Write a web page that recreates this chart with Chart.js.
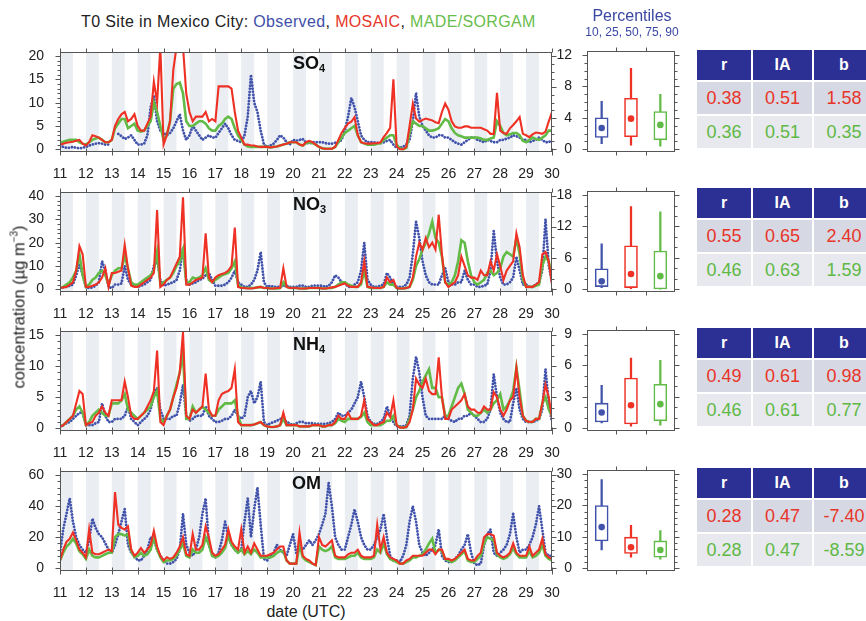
<!DOCTYPE html>
<html><head><meta charset="utf-8">
<script src="https://cdn.jsdelivr.net/npm/chart.js@4.4.1/dist/chart.umd.min.js"></script>
<style>
html,body{margin:0;padding:0;background:#fff;width:866px;height:621px;overflow:hidden;font-family:"Liberation Sans",Arial,Helvetica,sans-serif;}
canvas{position:absolute;z-index:1;}
.t{position:absolute;white-space:nowrap;line-height:1;z-index:3;}
.cell{position:absolute;display:flex;align-items:center;justify-content:center;box-sizing:border-box;}
.hd{background:#2c2f93;color:#fff;font-weight:bold;font-size:16px;}
.r1{background:#d6d9e3;font-size:18px;}
.r2{background:#e7e9ee;font-size:18px;}
.sp{font-weight:bold;font-size:18px;color:#111;}
.sp sub{font-size:11px;vertical-align:-3px;}
</style>
</head><body>
<div class="t" style="left:81px;top:14px;font-size:16px;letter-spacing:0.36px;color:#222;">T0 Site in Mexico City: <span style="color:#3f4fa8">Observed</span>, <span style="color:#e8352a">MOSAIC</span>, <span style="color:#69bd4c">MADE/SORGAM</span></div>
<div class="t" style="left:590px;top:8px;font-size:16px;color:#3a47a3;width:84px;text-align:center;">Percentiles</div>
<div class="t" style="left:575px;top:26px;font-size:12px;color:#3a47a3;width:114px;text-align:center;">10, 25, 50, 75, 90</div>
<div class="t sp" style="left:293px;top:54px;">SO<sub>4</sub></div>
<div class="t sp" style="left:293px;top:195px;">NO<sub>3</sub></div>
<div class="t sp" style="left:293px;top:335px;">NH<sub>4</sub></div>
<div class="t sp" style="left:292px;top:474px;">OM</div>
<div class="t" style="left:18px;top:307px;font-size:16.5px;color:#222;transform:translate(-50%,-50%) rotate(-90deg);">concentration (µg m<sup style="font-size:10px">−3</sup>)</div>
<div class="t" style="left:306px;top:604px;font-size:16px;color:#222;transform:translateX(-50%);">date (UTC)</div>
<script>
// ================= DATA =================
const dayTicks = [11,12,13,14,15,16,17,18,19,20,21,22,23,24,25,26,27,28,29,30];
// 3-hourly samples (00,03,...,21 UTC) for each day 11..29, plus 30 00 UTC
const so4Obs = [
0.8,0.5,0.3,0.3,0.5,0.3,0.2,0.3,
0.5,0.8,1.0,1.2,1.3,1.2,1.0,1.0,
null,null,3.3,2.8,2.2,2.5,3.0,2.0,
1.0,1.0,1.2,3.0,9.0,11.5,6.0,4.0,
3.5,3.0,3.5,4.5,6.0,7.5,4.0,2.0,
3.0,5.0,4.0,3.0,2.0,2.5,3.0,2.5,
2.5,3.5,4.5,5.5,4.5,3.0,2.0,1.8,
1.5,3.0,7.0,16.0,10.0,8.0,4.0,1.0,
0.5,0.8,1.2,2.0,3.0,2.5,1.5,1.0,
2.0,1.8,2.0,2.2,1.5,1.2,1.5,1.5,
1.5,1.5,1.3,1.2,1.2,1.4,1.5,2.0,
4.0,7.0,11.0,9.0,6.0,3.0,2.0,1.5,
1.5,1.5,1.4,1.3,1.5,1.8,2.0,1.0,
0.3,0.3,0.5,1.0,2.0,6.0,12.0,7.0,
5.0,4.0,3.0,2.5,2.5,3.0,3.0,2.5,
2.5,2.0,1.5,1.2,1.0,1.5,2.0,2.5,
2.5,2.0,1.8,1.5,2.0,1.8,1.5,1.5,
2.0,2.0,2.3,2.5,3.0,2.8,2.5,2.0,
2.0,1.5,1.8,2.0,2.5,2.0,1.5,1.5,
2.0];
const so4Mosaic = [
1.0,1.2,1.4,1.5,1.6,1.8,2.0,1.2,
0.8,1.5,3.0,2.8,2.5,2.0,1.5,1.5,
2.0,5.0,6.5,7.5,8.0,6.0,6.5,7.5,
5.0,4.0,4.0,5.5,7.0,14.5,10.0,22.0,
1.0,3.0,6.0,17.0,22.0,22.0,22.0,12.0,
8.0,6.0,7.0,7.0,7.0,8.0,6.0,6.5,
6.0,13.5,13.5,13.5,13.5,13.0,8.0,4.0,
2.5,1.0,1.0,0.8,0.8,0.6,0.5,0.5,
0.5,0.4,0.5,0.6,0.8,1.0,1.2,1.5,
1.5,1.5,1.0,0.8,1.5,1.8,1.5,1.0,
0.5,0.2,0.1,0.1,0.1,0.5,2.0,3.5,
4.6,5.5,5.9,6.9,3.0,1.5,1.3,1.2,
1.2,1.3,1.3,1.5,2.6,3.5,4.6,15.0,
0.6,0.0,0.0,0.5,5.0,9.8,6.6,5.9,
6.3,6.6,6.4,6.2,5.8,5.6,8.0,9.8,
8.5,6.0,4.9,4.6,4.6,4.9,4.9,4.6,
4.6,4.6,4.6,4.3,4.0,3.3,3.3,12.1,
4.0,3.5,3.3,4.5,5.2,6.0,6.9,3.3,
3.0,2.6,3.2,3.6,3.5,3.3,3.8,6.0,
8.0];
const so4Made = [
1.5,1.6,1.8,2.0,2.0,2.0,1.5,1.2,
1.0,1.5,2.0,2.3,2.5,2.0,1.5,1.5,
2.0,4.5,5.5,6.5,6.5,4.5,5.0,5.5,
4.0,3.8,4.0,5.0,6.0,10.0,8.0,5.0,
2.0,3.0,6.0,13.0,14.0,14.3,12.0,6.0,
5.0,5.0,5.5,6.0,6.0,5.5,4.5,4.0,
4.0,5.0,5.5,6.5,7.0,6.5,4.5,3.0,
2.0,1.0,0.6,0.5,0.5,0.5,0.5,0.5,
0.5,0.4,0.5,0.6,0.8,1.0,1.2,1.5,
1.5,1.5,1.0,0.8,1.3,1.5,1.3,1.0,
0.5,0.2,0.1,0.1,0.1,0.5,1.5,2.5,
3.5,4.0,4.5,5.0,3.0,1.5,1.2,1.0,
1.0,1.0,1.2,1.3,2.0,2.5,3.0,3.0,
1.0,0.2,0.0,0.3,3.5,6.0,5.5,5.0,
5.0,4.5,4.0,4.0,4.2,4.5,5.5,6.5,
6.0,4.5,3.5,3.0,2.8,2.5,2.5,2.5,
2.5,2.5,2.3,2.0,2.0,2.3,2.5,6.0,
5.0,3.5,3.0,3.2,3.5,3.5,3.0,1.8,
1.5,2.0,2.5,2.2,2.0,2.5,3.0,4.0,
4.0];
const no3Obs = [
0.5,0.8,1.0,1.5,2.0,6.0,11.0,6.0,
1.0,0.5,0.8,1.5,3.0,12.0,8.0,1.0,
0.5,2.0,2.0,2.5,10.0,4.0,2.0,1.5,
1.0,1.5,2.0,3.0,4.0,10.0,13.0,4.0,
1.5,2.0,2.5,3.0,4.0,8.0,18.0,4.0,
2.0,2.5,3.0,4.0,4.5,6.0,7.0,4.0,
1.5,1.5,1.5,2.0,3.0,5.0,8.0,3.0,
2.0,1.0,1.0,2.0,4.0,8.0,16.0,3.0,
1.0,1.5,1.0,1.0,1.0,1.5,1.5,1.0,
1.0,1.0,1.5,1.5,1.0,1.0,1.5,1.5,
1.5,1.5,1.0,1.5,3.0,6.0,5.0,3.0,
3.0,1.0,1.0,2.0,3.0,8.0,20.0,4.0,
2.0,1.0,1.0,1.5,2.0,7.0,5.0,2.0,
1.0,1.0,1.0,2.0,5.0,15.0,29.0,22.0,
12.0,6.0,3.0,2.0,2.0,2.0,6.0,9.0,
3.0,2.0,2.0,3.0,3.0,8.0,4.0,2.0,
2.0,1.0,1.0,1.5,2.0,8.0,25.0,12.0,
5.0,2.0,2.0,3.0,5.0,14.0,8.0,2.0,
2.0,1.0,1.0,2.0,3.0,8.0,30.0,10.0,
3.0];
const no3Mosaic = [
0.5,0.8,1.0,2.0,3.0,8.0,18.5,15.0,
1.0,1.0,1.5,2.0,3.0,5.0,9.0,1.0,
7.0,7.0,7.5,8.0,19.0,9.0,1.5,1.0,
1.0,2.0,3.0,4.0,5.0,7.0,34.0,1.0,
2.0,4.0,5.0,8.0,11.0,14.0,39.5,2.0,
2.0,3.0,4.0,4.5,5.0,24.0,5.0,3.0,
5.0,6.0,6.5,7.0,8.0,10.0,26.5,1.0,
0.5,0.5,0.3,0.3,0.5,0.8,1.0,0.5,
0.5,0.3,0.3,0.5,0.5,9.0,1.0,0.5,
0.5,0.5,0.3,0.3,0.3,0.5,0.5,0.5,
0.5,0.3,0.3,0.5,0.8,1.0,1.5,2.0,
2.5,1.5,1.0,1.0,1.0,3.0,12.0,1.0,
0.8,0.5,0.5,0.5,1.0,5.0,3.0,4.0,
0.5,0.3,0.3,0.5,1.0,5.0,14.0,20.0,
17.0,22.0,18.0,20.0,17.0,32.0,15.0,3.0,
1.0,2.0,3.0,6.0,14.0,10.0,6.0,5.0,
5.0,4.0,8.0,6.0,6.0,12.0,8.0,15.0,
10.0,4.0,8.0,10.0,12.0,24.0,18.0,6.0,
1.0,1.0,1.0,2.0,3.0,15.0,16.0,12.0,
2.0];
const no3Made = [
0.5,1.0,2.0,3.0,5.0,8.0,15.0,6.0,
1.0,2.0,4.0,5.0,7.0,8.0,6.0,2.0,
6.0,8.0,9.0,9.0,14.0,9.0,3.0,2.0,
2.0,3.0,4.0,5.0,6.0,8.0,16.0,2.0,
3.0,4.0,5.0,7.0,10.0,12.0,17.0,3.0,
3.0,5.0,4.5,5.0,6.0,9.0,4.0,3.0,
4.0,5.0,6.0,6.5,7.0,9.0,12.0,2.0,
0.8,0.5,0.5,0.5,0.5,0.8,1.0,0.5,
0.5,0.3,0.3,0.3,0.5,3.0,1.0,0.5,
0.5,0.5,0.3,0.3,0.3,0.5,0.5,0.5,
0.5,0.3,0.3,0.5,0.5,1.0,2.0,3.0,
3.0,2.0,1.5,1.0,1.0,2.0,8.0,1.0,
0.5,0.5,0.5,0.5,1.0,3.0,2.0,2.0,
0.5,0.3,0.3,0.5,1.0,4.0,10.0,13.0,
17.0,20.0,24.0,29.0,22.0,20.0,14.0,3.0,
2.0,3.0,6.0,12.0,21.0,20.0,12.0,6.0,
3.0,2.0,3.0,4.0,7.0,8.0,6.0,7.0,
9.0,14.0,16.0,15.0,14.0,22.0,15.0,4.0,
1.0,1.0,1.0,1.5,2.0,10.0,14.0,12.0,
4.0];
const nh4Obs = [
0.5,0.5,0.8,1.0,1.5,2.0,2.5,2.5,
0.5,0.5,0.5,0.8,1.0,4.0,2.0,1.0,
1.0,1.5,1.5,1.5,2.0,3.5,1.5,1.0,
0.5,1.0,1.5,2.0,3.0,5.5,6.5,3.0,
1.5,1.5,1.5,2.0,2.0,4.0,7.0,2.0,
1.2,1.5,2.0,2.0,2.0,3.5,2.0,1.5,
1.0,1.0,1.2,1.5,1.5,2.0,3.0,2.0,
1.5,2.0,5.0,6.0,4.0,5.0,7.5,1.0,
0.5,0.8,1.0,1.2,1.5,1.5,1.0,0.8,
0.5,0.8,1.0,1.0,0.8,0.8,0.8,0.7,
0.7,0.7,0.7,0.8,1.0,1.5,2.5,2.0,
2.0,2.5,3.0,4.0,5.0,7.5,5.0,2.0,
1.0,0.7,0.7,1.0,1.5,3.5,2.0,1.0,
0.3,0.3,0.3,0.5,2.0,8.0,11.5,9.0,
5.0,2.0,1.5,1.5,1.5,1.5,1.5,2.0,
1.5,1.2,1.0,1.5,1.5,2.0,2.0,2.5,
2.0,1.5,1.0,1.0,1.5,3.0,8.7,5.0,
2.5,1.5,1.0,1.0,4.0,6.5,3.0,1.5,
1.0,1.0,1.0,1.2,1.5,3.0,9.5,4.0,
1.0];
const nh4Mosaic = [
0.2,0.5,1.0,1.5,2.0,4.0,6.0,5.5,
0.5,0.8,1.0,2.0,2.5,3.5,2.5,2.0,
4.5,4.5,4.5,4.5,7.5,5.0,2.0,1.5,
1.5,2.0,2.5,3.5,4.5,6.0,12.5,1.0,
0.5,2.0,3.0,5.0,6.5,9.0,15.5,2.0,
1.5,3.0,2.5,3.0,3.5,8.8,3.0,2.0,
2.0,4.5,5.5,5.8,6.0,6.5,9.5,1.0,
0.5,0.5,0.5,0.5,0.6,0.8,1.0,0.5,
0.3,0.2,0.2,0.3,0.5,2.5,0.5,0.5,
0.5,0.5,0.3,0.3,0.3,0.3,0.5,0.5,
0.5,0.3,0.3,0.5,0.5,1.0,2.0,1.5,
1.5,2.5,1.5,1.5,1.5,2.0,4.5,1.5,
1.0,0.5,0.5,0.8,1.0,2.5,1.8,4.5,
0.5,0.1,0.1,0.2,1.0,3.0,8.0,7.0,
6.5,8.0,6.0,5.5,5.5,11.4,5.0,1.5,
1.5,3.0,3.5,4.0,4.5,5.5,3.5,3.0,
3.0,2.5,2.5,3.5,3.0,3.0,5.8,5.0,
3.0,2.0,3.0,4.5,5.0,9.7,5.0,2.0,
1.2,1.0,1.0,1.5,1.5,4.0,7.0,5.0,
1.5];
const nh4Made = [
0.3,0.5,1.0,1.5,2.0,3.0,3.5,2.5,
0.5,1.0,2.0,2.5,3.0,2.5,2.0,2.0,
4.0,4.0,4.0,4.5,5.5,3.0,2.5,2.0,
1.5,2.0,2.5,3.0,3.5,5.0,6.0,1.5,
1.0,2.0,3.0,5.0,7.0,9.0,12.0,1.5,
1.5,3.5,2.5,3.0,3.5,3.0,2.5,2.0,
2.0,3.0,3.5,4.0,4.0,4.0,4.5,2.0,
0.5,0.5,0.5,0.5,0.6,0.8,1.0,0.5,
0.3,0.2,0.2,0.3,0.5,1.5,0.5,0.5,
0.5,0.5,0.3,0.3,0.3,0.3,0.5,0.5,
0.5,0.3,0.3,0.5,0.5,0.8,1.5,1.2,
1.0,1.5,1.5,1.5,1.5,1.8,2.5,1.0,
0.5,0.5,0.5,0.5,0.8,1.2,1.2,2.0,
0.5,0.2,0.1,0.2,1.5,3.0,5.0,6.0,
7.5,8.5,9.5,6.5,6.5,5.0,5.0,2.0,
2.0,3.5,5.0,6.5,7.2,5.5,3.0,2.5,
2.0,2.0,2.5,3.0,2.5,3.0,4.0,4.5,
5.5,3.0,3.5,4.5,6.0,9.8,6.0,2.0,
1.2,1.0,1.0,1.5,1.5,4.0,5.0,3.0,
2.0];
const omObs = [
10,25,35,45,30,20,15,12,
10,18,32,26,22,20,16,12,
10,15,22,30,38,15,10,8,
5,5,8,12,20,18,12,8,
5,3,3,4,6,12,35,15,
10,8,12,20,35,45,15,10,
7,10,18,30,20,15,12,10,
12,30,45,20,38,52,28,6,
5,8,10,15,12,10,8,15,
22,10,12,12,15,18,15,18,
22,28,35,55,40,20,15,12,
12,20,28,38,30,20,15,12,
12,15,20,25,35,20,8,5,
5,4,8,15,30,40,30,15,
10,8,10,12,15,25,8,5,
4,4,6,8,12,15,22,10,
3,2,3,15,22,25,10,8,
10,12,15,22,35,20,10,12,
12,15,20,28,40,25,10,8,
8];
const omMosaic = [
5,12,17,19,23,18,12,10,
7,25,10,9,9,10,11,12,
11,49,28,26,25,27,12,8,
10,13,10,12,15,24,14,8,
5,7,6,7,10,14,20,9,
8,22,12,12,15,27,20,10,
8,9,12,15,25,17,14,12,
25,10,14,10,16,12,8,8,
8,9,10,12,14,14,5,3,
3,3,23,8,6,5,3,2,
20,15,14,16,18,8,7,7,
7,9,10,10,12,8,7,7,
7,8,28,12,20,10,7,6,
5,3,3,5,6,8,8,8,
8,10,12,12,9,12,12,6,
6,5,6,8,10,12,6,5,
5,8,10,20,22,22,21,10,
8,7,8,10,16,10,8,8,
8,14,8,10,12,19,9,7,
6];
const omMade = [
5,10,14,16,19,16,11,9,
6,12,8,7,7,8,9,10,
10,20,22,22,21,22,11,7,
8,10,8,9,12,20,12,7,
4,5,5,6,8,12,16,8,
7,12,10,10,12,20,15,8,
7,8,10,13,21,15,12,10,
12,9,11,9,12,10,7,7,
7,7,8,10,11,11,5,3,
3,3,15,7,5,4,3,2,
14,12,11,12,14,7,6,6,
6,7,8,8,10,7,6,6,
6,7,12,10,16,9,6,5,
4,3,3,4,5,7,7,8,
9,12,16,19,10,12,11,6,
5,4,5,7,9,11,5,4,
4,6,8,16,20,19,18,9,
7,6,7,9,13,9,7,7,
7,11,7,8,10,15,8,6,
5];
const so4YTicks = [0,5,10,15,20];
const no3YTicks = [0,10,20,30,40];
const nh4YTicks = [0,5,10,15];
const omYTicks  = [0,20,40,60];
// box plots: [p10, p25, p50, p75, p90] for Observed, MOSAIC, MADE/SORGAM
const boxCats = ['Observed','MOSAIC','MADE/SORGAM'];
const so4Pct = [[0.7,1.5,2.7,4.0,6.1],[0.5,1.6,3.9,6.5,10.3],[0.4,1.2,3.1,4.8,7.0]];
const no3Pct = [[0.3,0.5,1.5,3.9,8.7],[0.1,0.3,2.9,8.3,15.8],[0.0,0.05,2.5,7.3,14.8]];
const nh4Pct = [[0.5,0.6,1.5,2.4,4.1],[0.2,0.4,2.2,4.8,6.7],[0.3,0.7,2.3,4.2,6.5]];
const omPct  = [[5.8,8.7,13.1,20.0,28.3],[3.5,4.7,6.7,9.9,13.7],[2.9,3.5,5.8,8.7,12.0]];
const so4BoxTicks = [0,4,8,12];
const no3BoxTicks = [0,6,12,18];
const nh4BoxTicks = [0,3,6,9];
const omBoxTicks  = [0,10,20,30];
// statistics tables: r, IA, b
const statHeads = ['r','IA','b'];
const mosaicStats = [['0.38','0.51','1.58'],['0.55','0.65','2.40'],['0.49','0.61','0.98'],['0.28','0.47','-7.40']];
const madeStats   = [['0.36','0.51','0.35'],['0.46','0.63','1.59'],['0.46','0.61','0.77'],['0.28','0.47','-8.59']];

// ================= STYLE / LAYOUT =================
const RED = '#ee3124', GREEN = '#63bb47', BLUE = '#4152ab';
const AXIS = '#555', TXT = '#222', NIGHT = '#eaeef2';
const FONT = '"Liberation Sans", Arial, sans-serif';
const panels = [
  {top:44,  obs:so4Obs, mos:so4Mosaic, made:so4Made, yt:so4YTicks, ym:1, pct:so4Pct, bt:so4BoxTicks, bm:1},
  {top:184, obs:no3Obs, mos:no3Mosaic, made:no3Made, yt:no3YTicks, ym:2, pct:no3Pct, bt:no3BoxTicks, bm:2},
  {top:323, obs:nh4Obs, mos:nh4Mosaic, made:nh4Made, yt:nh4YTicks, ym:1, pct:nh4Pct, bt:nh4BoxTicks, bm:1},
  {top:463, obs:omObs,  mos:omMosaic,  made:omMade,  yt:omYTicks,  ym:4, pct:omPct,  bt:omBoxTicks,  bm:2},
];
const PLOT_H = 108, PAD_T = 8, XAX_H = 28;
function range(ticks){ const T = ticks[ticks.length-1]; return {min:-3*T/101, max:T+4*T/101}; }
function minorVals(ticks, step){ const out=[]; const T=ticks[ticks.length-1]; for(let v=0; v<=T+1e-9; v+=step){ if(!ticks.some(t=>Math.abs(t-v)<1e-9)) out.push(v);} return out; }

const framePlugin = {
  id:'frame',
  beforeDatasetsDraw(chart, args, o){
    if(!o.night) return;
    const {ctx, chartArea:a} = chart, x = chart.scales.x;
    ctx.save(); ctx.beginPath(); ctx.rect(a.left,a.top,a.right-a.left,a.bottom-a.top); ctx.clip();
    ctx.fillStyle = NIGHT;
    dayTicks.slice(0,-1).forEach(d=>{
      const x0 = x.getPixelForValue(d+o.night[0]), x1 = x.getPixelForValue(d+o.night[1]);
      ctx.fillRect(x0,a.top,x1-x0,a.bottom-a.top);
    });
    ctx.restore();
  },
  afterDraw(chart, args, o){
    const {ctx, chartArea:a} = chart, y = chart.scales.y, x = chart.scales.x;
    const L=Math.round(a.left)+0.5, R=Math.round(a.right)-0.5, T=Math.round(a.top)+0.5, B=Math.round(a.bottom)-0.5;
    ctx.save(); ctx.strokeStyle=AXIS; ctx.lineWidth=1;
    ctx.strokeRect(L,T,R-L,B-T);
    ctx.beginPath();
    const hl=(yy,x0,x1)=>{ const p=Math.round(yy)+0.5; ctx.moveTo(x0,p); ctx.lineTo(x1,p); };
    const vl=(xx,y0,y1)=>{ const p=Math.round(xx)+0.5; ctx.moveTo(p,y0); ctx.lineTo(p,y1); };
    o.yMajor.forEach(v=>{ const p=y.getPixelForValue(v); hl(p,L-5,L); });
    o.yMinor.forEach(v=>{ const p=y.getPixelForValue(v); hl(p,L-3,L); });
    if(o.rMajor){ o.rMajor.forEach(v=>{ const p=y.getPixelForValue(v); hl(p,R,R+5); });
                  o.rMinor.forEach(v=>{ const p=y.getPixelForValue(v); hl(p,R,R+3); }); }
    if(o.xTop){ o.xTop.forEach(v=>{ const p=x.getPixelForValue(v); vl(p,T-4,T); vl(p,B-3,B+4); }); }
    if(o.catTicks){ const n=chart.data.labels.length;
      for(let i=0;i<n-1;i++){ const p=(x.getPixelForValue(i)+x.getPixelForValue(i+1))/2; vl(p,T-4,T); vl(p,B,B+4);} }
    ctx.stroke(); ctx.restore();
  }
};
Chart.register(framePlugin);

function mkCanvas(left, top, w, h){
  const c=document.createElement('canvas'); c.width=w; c.height=h;
  c.style.left=left+'px'; c.style.top=top+'px'; c.style.width=w+'px'; c.style.height=h+'px';
  document.body.appendChild(c); return c;
}

panels.forEach((p)=>{
  const times = p.obs.map((_,i)=>dayTicks[0]+i/8);
  const pts = arr => arr.map((v,i)=>({x:times[i], y:v}));
  const yr = range(p.yt);
  const T = p.yt[p.yt.length-1], BT = p.bt[p.bt.length-1];
  const toTs = v => v*T/BT;
  // ---- time series ----
  const c1 = mkCanvas(0, p.top-PAD_T, 566, PAD_T+PLOT_H+XAX_H);
  new Chart(c1, {
    type:'line',
    data:{datasets:[
      {data:pts(p.mos), borderColor:RED, borderWidth:2.1, pointRadius:0, tension:0, spanGaps:false},
      {data:pts(p.made), borderColor:GREEN, borderWidth:2.6, pointRadius:0, tension:0, spanGaps:false},
      {data:pts(p.obs), borderColor:BLUE, borderWidth:2.8, borderDash:[0.01,3.1], borderCapStyle:'round',
       pointRadius:0, tension:0, spanGaps:false},
    ]},
    options:{
      responsive:false, animation:false, devicePixelRatio:1,
      layout:{padding:{top:PAD_T, right:14, left:0, bottom:0}},
      plugins:{legend:{display:false}, tooltip:{enabled:false},
        frame:{night:[0.0,0.5], yMajor:p.yt, yMinor:minorVals(p.yt, p.ym),
               rMajor:p.bt.map(toTs), rMinor:minorVals(p.bt, p.bm).map(toTs), xTop:dayTicks}},
      scales:{
        x:{type:'linear', min:dayTicks[0], max:dayTicks[dayTicks.length-1],
           afterBuildTicks:s=>{s.ticks=dayTicks.map(v=>({value:v}));},
           afterFit:s=>{s.height=XAX_H;},
           grid:{display:false}, border:{display:false},
           ticks:{color:TXT, font:{family:FONT,size:14}, padding:6, maxRotation:0, autoSkip:false}},
        y:{min:yr.min, max:yr.max,
           afterBuildTicks:s=>{s.ticks=p.yt.map(v=>({value:v}));},
           afterFit:s=>{s.width=60;},
           grid:{display:false}, border:{display:false},
           ticks:{color:TXT, font:{family:FONT,size:14}, padding:8}}
      }
    }
  });
  // ---- box plot ----
  const br = range(p.bt);
  const c2 = mkCanvas(555, p.top-PAD_T, 125, PAD_T+PLOT_H+XAX_H);
  const cols = [BLUE, RED, GREEN];
  new Chart(c2, {
    type:'bar',
    data:{labels:boxCats, datasets:[
      {type:'line', data:p.pct.map(q=>q[2]), showLine:false, pointRadius:3.3, pointBorderWidth:0, pointBackgroundColor:cols},
      {data:p.pct.map(q=>[q[1],q[3]]), grouped:false, barThickness:13, backgroundColor:'#fff', borderColor:cols, borderWidth:1.6, borderSkipped:false},
      {data:p.pct.map(q=>[q[0],q[4]]), grouped:false, barThickness:1.6, backgroundColor:cols, borderWidth:0},
    ]},
    options:{
      responsive:false, animation:false, devicePixelRatio:1,
      layout:{padding:{top:PAD_T, right:5, left:0, bottom:XAX_H}},
      plugins:{legend:{display:false}, tooltip:{enabled:false},
        frame:{yMajor:p.bt, yMinor:minorVals(p.bt,p.bm), rMajor:p.bt, rMinor:minorVals(p.bt,p.bm), catTicks:true}},
      scales:{
        x:{display:false},
        y:{min:br.min, max:br.max,
           afterBuildTicks:s=>{s.ticks=p.bt.map(v=>({value:v}));},
           afterFit:s=>{s.width=32;},
           grid:{display:false}, border:{display:false},
           ticks:{color:TXT, font:{family:FONT,size:14}, padding:7}}
      }
    }
  });
});

// ---- statistics tables ----
const tblTops = [50,188,328,468];
const colL = [697,753,814], colW = [54,59,60];
tblTops.forEach((t,k)=>{
  const rows = [{cls:'hd', vals:statHeads, top:t, h:30, col:'#fff'},
                {cls:'r1', vals:mosaicStats[k], top:t+32, h:32, col:'#e8352a'},
                {cls:'r2', vals:madeStats[k], top:t+66, h:32, col:'#5fb845'}];
  rows.forEach(r=>{
    r.vals.forEach((v,j)=>{
      const d=document.createElement('div'); d.className='cell '+r.cls;
      d.style.left=colL[j]+'px'; d.style.top=r.top+'px'; d.style.width=colW[j]+'px'; d.style.height=r.h+'px';
      d.style.color=r.col; d.textContent=v; document.body.appendChild(d);
    });
  });
});
</script>
</body></html>
